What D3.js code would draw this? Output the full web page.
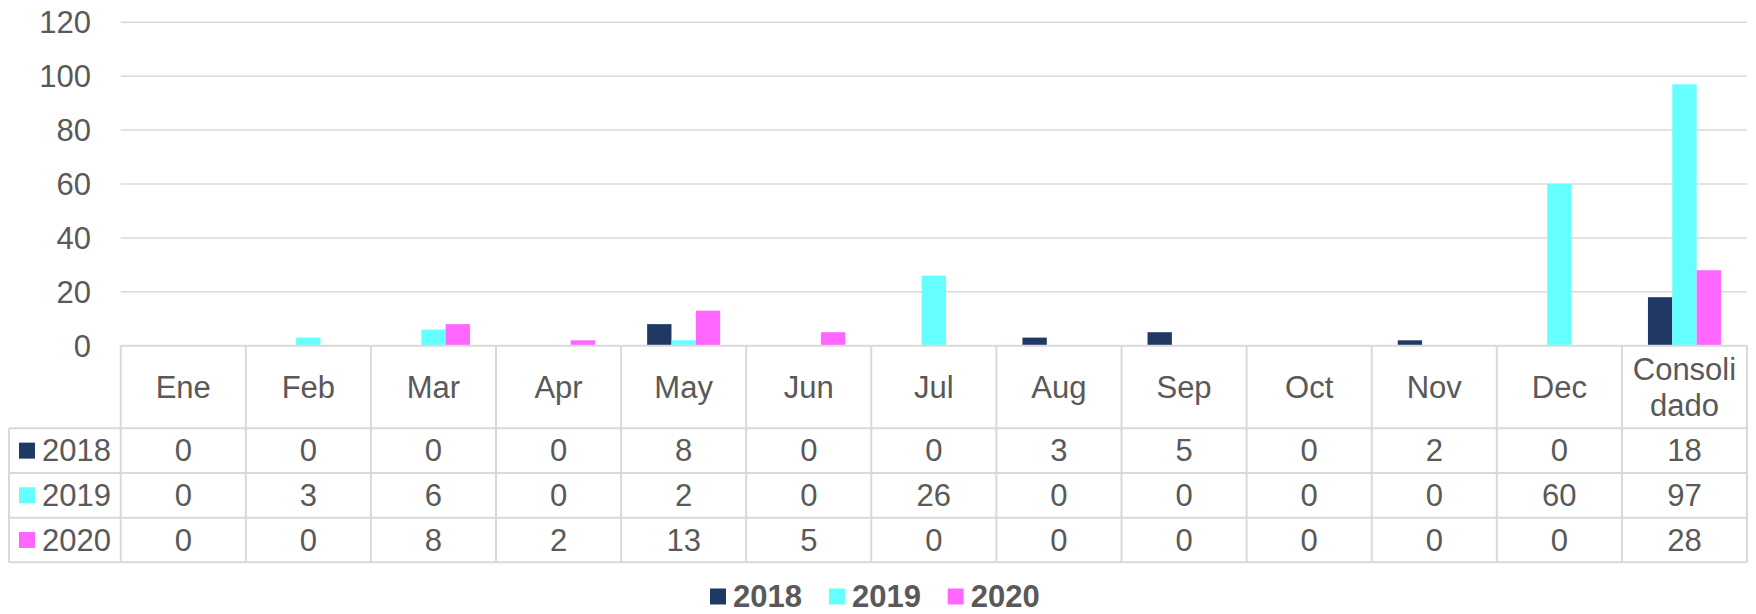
<!DOCTYPE html>
<html>
<head>
<meta charset="utf-8">
<script src="https://cdn.jsdelivr.net/npm/d3@7"></script>
<style>
  body { margin: 0; background: #fff; }
  text { font-family: "Liberation Sans", Arial, sans-serif; fill: #595959; }
</style>
</head>
<body>
<div class="chart"></div>
<script>
let months = ["Ene", "Feb", "Mar", "Apr", "May", "Jun", "Jul", "Aug", "Sep", "Oct", "Nov", "Dec", "Consolidado"];
let monthLabels = [["Ene"], ["Feb"], ["Mar"], ["Apr"], ["May"], ["Jun"], ["Jul"], ["Aug"], ["Sep"], ["Oct"], ["Nov"], ["Dec"], ["Consoli", "dado"]];
let series = ["2018", "2019", "2020"];
let values2018 = [0, 0, 0, 0, 8, 0, 0, 3, 5, 0, 2, 0, 18];
let values2019 = [0, 3, 6, 0, 2, 0, 26, 0, 0, 0, 0, 60, 97];
let values2020 = [0, 0, 8, 2, 13, 5, 0, 0, 0, 0, 0, 0, 28];
let colors = ["#203864", "#66FFFF", "#FF66FF"];
let yTicks = [0, 20, 40, 60, 80, 100, 120];

let svgWidth = 1756;
let svgHeight = 614;

let plotLeft = 120.7, plotRight = 1747;
let plotTop = 22.3, plotBottom = 345.7;
let tableLeft = 9;
let headerBottom = 428.3;
let rowH = 44.67;
let grid = "#d9d9d9";

let table = series.map((s, i) => ({ name: s, color: colors[i], values: [values2018, values2019, values2020][i] }));

let svg = d3.select(".chart")
    .append("svg")
    .attr("width", svgWidth)
    .attr("height", svgHeight);

let x = d3.scaleBand()
    .domain(months)
    .range([plotLeft, plotRight])
    .paddingInner(0)
    .paddingOuter(0);

let x1 = d3.scaleBand()
    .domain(series)
    .range([0, x.bandwidth()])
    .paddingInner(0)
    .paddingOuter(1.07);

let y = d3.scaleLinear()
    .domain([0, 120])
    .range([plotBottom, plotTop]);

// gridlines + y labels
svg.append("g")
    .selectAll("line")
    .data(yTicks.filter(d => d > 0))
    .enter()
    .append("line")
    .attr("x1", plotLeft)
    .attr("x2", plotRight)
    .attr("y1", d => y(d))
    .attr("y2", d => y(d))
    .attr("stroke", grid)
    .attr("stroke-width", 1.5);

svg.append("g")
    .selectAll("text")
    .data(yTicks)
    .enter()
    .append("text")
    .attr("x", 91)
    .attr("y", d => y(d))
    .attr("dy", "0.35em")
    .attr("text-anchor", "end")
    .style("font-size", "31px")
    .text(d => d);

// bars
let groups = svg.append("g")
    .selectAll("g")
    .data(table)
    .enter()
    .append("g")
    .attr("fill", d => d.color);

groups.selectAll("rect")
    .data(d => d.values.map((v, i) => ({ s: d.name, m: months[i], v: v })))
    .enter()
    .filter(d => d.v > 0)
    .append("rect")
    .attr("x", d => x(d.m) + x1(d.s))
    .attr("width", x1.bandwidth())
    .attr("y", d => y(d.v))
    .attr("height", d => y(0) - y(d.v));

// data table
let tableBottom = headerBottom + rowH * series.length;
let lines = svg.append("g").attr("stroke", grid).attr("stroke-width", 2);

lines.append("line")
    .attr("x1", plotLeft).attr("x2", plotRight)
    .attr("y1", plotBottom).attr("y2", plotBottom);

d3.range(series.length + 1).forEach(i => {
    let yy = headerBottom + i * rowH;
    lines.append("line")
        .attr("x1", tableLeft).attr("x2", plotRight)
        .attr("y1", yy).attr("y2", yy);
});

months.forEach(m => {
    lines.append("line")
        .attr("x1", x(m)).attr("x2", x(m))
        .attr("y1", plotBottom).attr("y2", tableBottom);
});
lines.append("line")
    .attr("x1", plotRight).attr("x2", plotRight)
    .attr("y1", plotBottom).attr("y2", tableBottom);
lines.append("line")
    .attr("x1", tableLeft).attr("x2", tableLeft)
    .attr("y1", headerBottom).attr("y2", tableBottom);

// header labels
let header = svg.append("g")
    .selectAll("text")
    .data(months)
    .enter()
    .append("text")
    .attr("text-anchor", "middle")
    .style("font-size", "31px");

header.each(function(m, i) {
    let lbl = monthLabels[i];
    let cx = x(m) + x.bandwidth() / 2;
    let cy = (plotBottom + headerBottom) / 2;
    let t = d3.select(this);
    lbl.forEach((l, k) => {
        t.append("tspan")
            .attr("x", cx)
            .attr("y", cy + (k - (lbl.length - 1) / 2) * 36)
            .attr("dy", "0.35em")
            .text(l);
    });
});

// rows
table.forEach((row, r) => {
    let cy = headerBottom + rowH * r + rowH / 2;
    svg.append("rect")
        .attr("x", 19)
        .attr("y", cy - 8)
        .attr("width", 16)
        .attr("height", 16)
        .attr("fill", row.color);
    svg.append("text")
        .attr("x", 42)
        .attr("y", cy)
        .attr("dy", "0.35em")
        .style("font-size", "31px")
        .text(row.name);
    svg.append("g")
        .selectAll("text")
        .data(row.values)
        .enter()
        .append("text")
        .attr("x", (d, i) => x(months[i]) + x.bandwidth() / 2)
        .attr("y", cy)
        .attr("dy", "0.35em")
        .attr("text-anchor", "middle")
        .style("font-size", "31px")
        .text(d => d);
});

// legend
let legendX = [710, 829, 947.7];
let legend = svg.append("g")
    .selectAll("g")
    .data(table)
    .enter()
    .append("g")
    .attr("transform", (d, i) => `translate(${legendX[i]}, 596.5)`);

legend.append("rect")
    .attr("x", 0)
    .attr("y", -8)
    .attr("width", 16)
    .attr("height", 16)
    .attr("fill", d => d.color);

legend.append("text")
    .attr("x", 23)
    .attr("y", 0)
    .attr("dy", "0.35em")
    .style("font-size", "31px")
    .style("font-weight", "bold")
    .text(d => d.name);
</script>
</body>
</html>
